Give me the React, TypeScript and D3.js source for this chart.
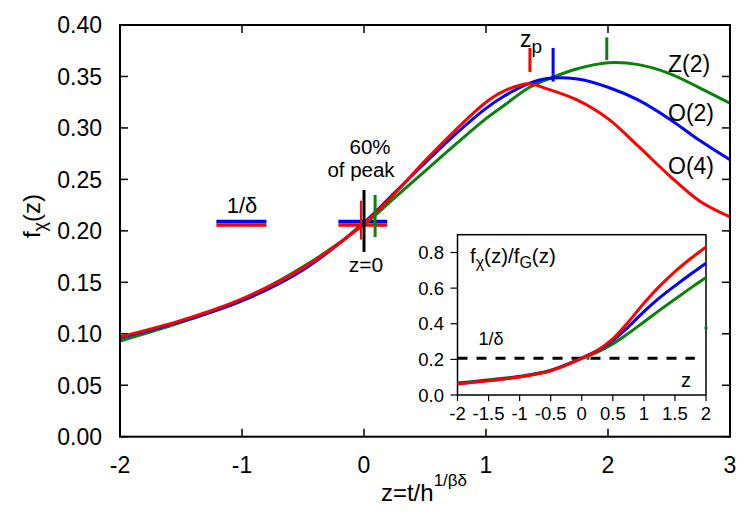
import React from "react";
import * as d3 from "d3";

// Scaling function f_chi(z) for three universality classes
const zMain = [-2, -1.5, -1, -0.5, 0, 0.25, 0.5, 0.75, 1, 1.15, 1.35, 1.5, 1.75, 2, 2.25, 2.5, 2.75, 3];
const fO4 = [0.097, 0.113, 0.134, 0.164, 0.207, 0.236, 0.268, 0.298, 0.325, 0.336, 0.343, 0.338, 0.327, 0.309, 0.282, 0.254, 0.229, 0.2135];
const fO2 = [0.096, 0.112, 0.132, 0.162, 0.208, 0.237, 0.266, 0.294, 0.319, 0.331, 0.343, 0.348, 0.3475, 0.3395, 0.327, 0.309, 0.288, 0.269];
const fZ2 = [0.093, 0.111, 0.133, 0.165, 0.206, 0.232, 0.258, 0.284, 0.309, 0.322, 0.339, 0.347, 0.3575, 0.3633, 0.3615, 0.353, 0.339, 0.324];

// Ratio f_chi / f_G for the inset
const zInset = [-2, -1.5, -1, -0.5, 0, 0.25, 0.5, 0.75, 1, 1.25, 1.5, 1.75, 2];
const rO4 = [0.062, 0.08, 0.101, 0.136, 0.206, 0.25, 0.315, 0.41, 0.515, 0.61, 0.693, 0.765, 0.831];
const rO2 = [0.064, 0.081, 0.102, 0.137, 0.207, 0.249, 0.305, 0.383, 0.468, 0.545, 0.613, 0.678, 0.74];
const rZ2 = [0.068, 0.085, 0.105, 0.139, 0.206, 0.241, 0.287, 0.346, 0.41, 0.475, 0.538, 0.6, 0.66];
const insetDots = [[0.1, 0.206], [2, 0.376]];

// 1/delta levels and peak positions
const invDelta = { O2: 0.209, O4: 0.2058 };
const invDeltaSpan = [-1.21, -0.8];
const crossSpan = [-0.21, 0.19];
const peakZ = { O4: 1.36, O2: 1.55, Z2: 1.99 };
const peakMarks = { O4: [0.3544, 0.3777], O2: [0.345, 0.3777], Z2: [0.366, 0.388] };
const z60 = { O4: -0.025, Z2: 0.091 };
const mark60 = { black: [0.1795, 0.2397], O4: [0.1915, 0.2293], Z2: [0.194, 0.2349] };

const xTicks = [-2, -1, 0, 1, 2, 3];
const yTicks = [0, 0.05, 0.1, 0.15, 0.2, 0.25, 0.3, 0.35, 0.4];
const xTicksInset = [-2, -1.5, -1, -0.5, 0, 0.5, 1, 1.5, 2];
const yTicksInset = [0, 0.2, 0.4, 0.6, 0.8];

const RED = "#ff0000";
const BLUE = "#0000ff";
const GREEN = "#0b800b";
const FONT = "'Liberation Sans', Arial, Helvetica, sans-serif";

export default function App() {
  const x = d3.scaleLinear().domain([-2, 3]).range([120, 730]);
  const y = d3.scaleLinear().domain([0, 0.4]).range([436.7, 25]);
  const xi = d3.scaleLinear().domain([-2, 2]).range([457.5, 706]);
  const yi = d3.scaleLinear().domain([0, 0.9]).range([395, 234.7]);

  const smooth = d3.curveCatmullRom.alpha(0.5);
  const mainLine = (vals: number[]) =>
    d3.line<number>().x((_, i) => x(zMain[i])).y((d) => y(d)).curve(smooth)(vals) || "";
  const insetLine = (vals: number[]) =>
    d3.line<number>().x((_, i) => xi(zInset[i])).y((d) => yi(d)).curve(smooth)(vals) || "";

  const [x0, x1] = x.range();
  const [y0, y1] = y.range();
  const tick = 8;

  const vbar = (z: number, v: number[], color: string, w: number) => (
    <line x1={x(z)} x2={x(z)} y1={y(v[0])} y2={y(v[1])} stroke={color} strokeWidth={w} />
  );
  const hbar = (span: number[], v: number, color: string) => (
    <line x1={x(span[0])} x2={x(span[1])} y1={y(v)} y2={y(v)} stroke={color} strokeWidth={3.5} />
  );

  return (
    <svg width={750} height={525} style={{ position: "absolute", left: 0, top: 0, background: "#fff" }} fontFamily={FONT}>
      <rect x={0} y={0} width={750} height={525} fill="#fff" />

      {/* main frame ticks */}
      {xTicks.map((t) => (
        <g key={"xt" + t}>
          <line x1={x(t)} x2={x(t)} y1={y0} y2={y0 - tick} stroke="#000" strokeWidth={1.5} />
          <line x1={x(t)} x2={x(t)} y1={y1} y2={y1 + tick} stroke="#000" strokeWidth={1.5} />
          <text x={x(t)} y={473} fontSize={23} textAnchor="middle">{t}</text>
        </g>
      ))}
      {yTicks.map((t) => (
        <g key={"yt" + t}>
          <line x1={x0} x2={x0 + tick} y1={y(t)} y2={y(t)} stroke="#000" strokeWidth={1.5} />
          <line x1={x1} x2={x1 - tick} y1={y(t)} y2={y(t)} stroke="#000" strokeWidth={1.5} />
          <text x={102} y={y(t)} dy="0.36em" fontSize={23} textAnchor="end">{t.toFixed(2)}</text>
        </g>
      ))}

      {/* axis titles */}
      <text x={424} y={501} fontSize={24} textAnchor="middle">
        z=t/h<tspan dy={-15} fontSize={17}>1/βδ</tspan>
      </text>
      <text transform="translate(40,216) rotate(-90)" fontSize={24} textAnchor="middle">
        f<tspan dy={6} fontSize={18}>χ</tspan><tspan dy={-6}>(z)</tspan>
      </text>

      {/* 1/delta levels */}
      {hbar(invDeltaSpan, invDelta.O2, BLUE)}
      {hbar(invDeltaSpan, invDelta.O4, RED)}
      <text x={x(-1.0)} y={213} fontSize={22} textAnchor="middle">1/δ</text>
      {hbar(crossSpan, invDelta.O2, BLUE)}
      {hbar(crossSpan, invDelta.O4, RED)}

      {/* curves */}
      <path d={mainLine(fZ2)} fill="none" stroke={GREEN} strokeWidth={3} />
      <path d={mainLine(fO2)} fill="none" stroke={BLUE} strokeWidth={3} />
      <path d={mainLine(fO4)} fill="none" stroke={RED} strokeWidth={3} />

      {/* 60% of peak markers */}
      {vbar(z60.O4, mark60.O4, RED, 2)}
      {vbar(0, mark60.black, "#000", 3)}
      {vbar(z60.Z2, mark60.Z2, GREEN, 3)}
      <text x={370} y={154} fontSize={20.5} textAnchor="middle">60%</text>
      <text x={361} y={177} fontSize={20.5} textAnchor="middle">of peak</text>
      <text x={366} y={272} fontSize={21} textAnchor="middle">z=0</text>

      {/* peak markers */}
      {vbar(peakZ.O4, peakMarks.O4, RED, 3)}
      {vbar(peakZ.O2, peakMarks.O2, BLUE, 3)}
      {vbar(peakZ.Z2, peakMarks.Z2, GREEN, 3)}
      <text x={520} y={47} fontSize={23}>
        z<tspan dy={6} fontSize={19}>p</tspan>
      </text>

      {/* curve labels */}
      <text x={668} y={72} fontSize={23}>Z(2)</text>
      <text x={668} y={121} fontSize={23}>O(2)</text>
      <text x={668} y={174} fontSize={23}>O(4)</text>

      {/* inset */}
      <rect x={xi(-2)} y={yi(0.9)} width={xi(2) - xi(-2)} height={yi(0) - yi(0.9)} fill="#fff" stroke="#000" strokeWidth={1.5} />
      {xTicksInset.map((t) => (
        <g key={"xi" + t}>
          <line x1={xi(t)} x2={xi(t)} y1={yi(0)} y2={yi(0) + 6} stroke="#000" strokeWidth={1.2} />
          <text x={xi(t)} y={420} fontSize={18.5} textAnchor="middle">{t}</text>
        </g>
      ))}
      {yTicksInset.map((t) => (
        <g key={"yi" + t}>
          <line x1={xi(-2) - 7} x2={xi(-2)} y1={yi(t)} y2={yi(t)} stroke="#000" strokeWidth={1.2} />
          <text x={444} y={yi(t)} dy="0.36em" fontSize={18.5} textAnchor="end">{t.toFixed(1)}</text>
        </g>
      ))}
      <line x1={xi(-2)} x2={xi(1.82)} y1={yi(0.206)} y2={yi(0.206)} stroke="#000" strokeWidth={3} strokeDasharray="10,9" />
      <path d={insetLine(rZ2)} fill="none" stroke={GREEN} strokeWidth={3} />
      <path d={insetLine(rO2)} fill="none" stroke={BLUE} strokeWidth={3} />
      <path d={insetLine(rO4)} fill="none" stroke={RED} strokeWidth={3} />
      {insetDots.map(([z, v], i) => (
        <rect key={"d" + i} x={xi(z) - 1.5} y={yi(v) - 1.5} width={3} height={3} fill={GREEN} />
      ))}
      <text x={470} y={263} fontSize={20.5}>
        f<tspan dy={5} fontSize={16}>χ</tspan><tspan dy={-5}>(z)/f</tspan><tspan dy={5} fontSize={16}>G</tspan><tspan dy={-5}>(z)</tspan>
      </text>
      <text x={491} y={345} fontSize={18} textAnchor="middle">1/δ</text>
      <text x={686} y={387} fontSize={20} textAnchor="middle">z</text>

      {/* main frame */}
      <rect x={x0} y={y1} width={x1 - x0} height={y0 - y1} fill="none" stroke="#000" strokeWidth={2} />
    </svg>
  );
}
